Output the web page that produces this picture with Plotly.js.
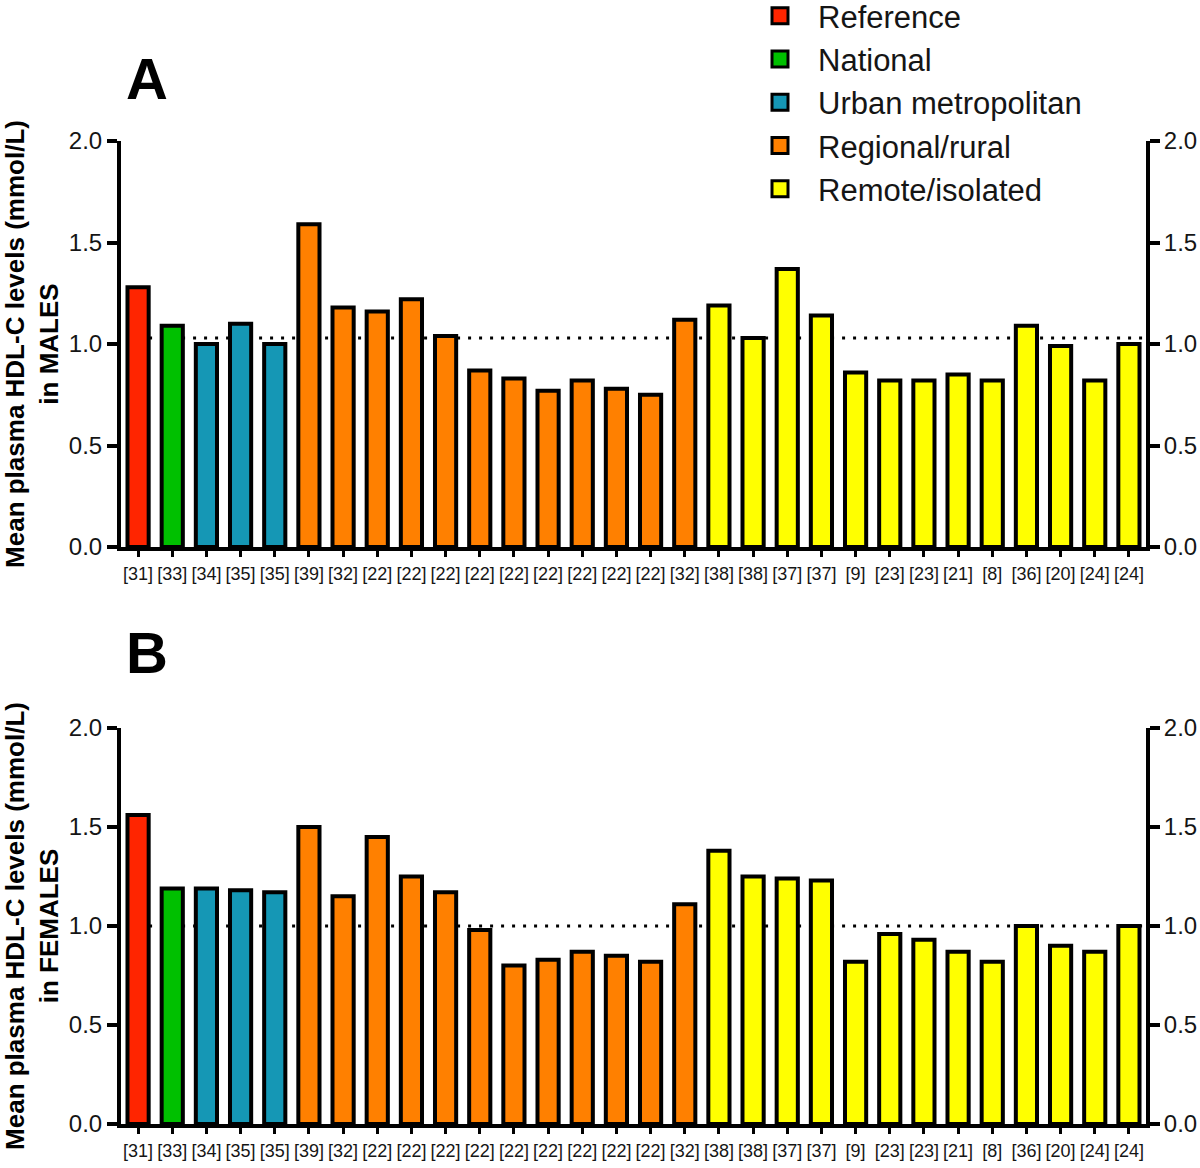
<!DOCTYPE html>
<html>
<head>
<meta charset="utf-8">
<script src="https://cdn.plot.ly/plotly-3.0.1.min.js"></script>
<style>
html,body{margin:0;padding:0;background:#ffffff;}
#chart{width:1200px;height:1168px;}
</style>
</head>
<body>
<div id="chart"></div>
<script>
// ---------- data ----------
const studyRefs = ["[31]","[33]","[34]","[35]","[35]","[39]","[32]","[22]","[22]","[22]","[22]","[22]","[22]","[22]","[22]","[22]","[32]","[38]","[38]","[37]","[37]","[9]","[23]","[23]","[21]","[8]","[36]","[20]","[24]","[24]"];

const groupNames = ["Reference","National","Urban metropolitan","Regional/rural","Remote/isolated"];

const studyGroup = ["Reference","National","Urban metropolitan","Urban metropolitan","Urban metropolitan",
  "Regional/rural","Regional/rural","Regional/rural","Regional/rural","Regional/rural","Regional/rural",
  "Regional/rural","Regional/rural","Regional/rural","Regional/rural","Regional/rural","Regional/rural",
  "Remote/isolated","Remote/isolated","Remote/isolated","Remote/isolated","Remote/isolated","Remote/isolated",
  "Remote/isolated","Remote/isolated","Remote/isolated","Remote/isolated","Remote/isolated","Remote/isolated","Remote/isolated"];

const malesHDL = [1.28,1.09,1.00,1.10,1.00,1.59,1.18,1.16,1.22,1.04,0.87,0.83,0.77,0.82,0.78,0.75,1.12,
  1.19,1.03,1.37,1.14,0.86,0.82,0.82,0.85,0.82,1.09,0.99,0.82,1.00];

const femalesHDL = [1.56,1.19,1.19,1.18,1.17,1.50,1.15,1.45,1.25,1.17,0.98,0.80,0.83,0.87,0.85,0.82,1.11,
  1.38,1.25,1.24,1.23,0.82,0.96,0.93,0.87,0.82,1.00,0.90,0.87,1.00];

const malesRefLine = 1.03;
const femalesRefLine = 1.00;

const yTicks = [0, 0.5, 1.0, 1.5, 2.0];

// ---------- styles ----------
const groupColors = {
  "Reference": "#FF2500",
  "National": "#00C000",
  "Urban metropolitan": "#1597B5",
  "Regional/rural": "#FF8000",
  "Remote/isolated": "#FFFF00"
};
const FONT = "Arial, 'Liberation Sans', Helvetica, sans-serif";
const TXT = "#151515";

const positions = studyRefs.map((_, i) => i);
const traces = [];

function addPanel(values, xa, ya) {
  groupNames.forEach(g => {
    const xs = [], ys = [];
    positions.forEach(i => { if (studyGroup[i] === g) { xs.push(i); ys.push(values[i]); } });
    traces.push({
      type: "bar", x: xs, y: ys, xaxis: xa, yaxis: ya,
      width: 0.62, name: g, showlegend: false, legendgroup: g,
      marker: { color: groupColors[g], line: { color: "#000", width: 4 } },
      hoverinfo: "y"
    });
  });
}
addPanel(malesHDL, "x", "y");
addPanel(femalesHDL, "x2", "y2");

// legend entries (empty markers; attached to the right-hand axes so those axes get drawn)
groupNames.forEach((g, k) => {
  const onB = k >= 3;
  traces.push({
    type: "scatter", mode: "markers", x: [null], y: [null],
    xaxis: onB ? "x2" : "x", yaxis: onB ? "y4" : "y3",
    name: g, legendgroup: g, showlegend: true,
    marker: { symbol: "square", size: 16, color: groupColors[g], line: { color: "#000", width: 3 } }
  });
});

const L = 121, R = 54, T = 141, B = 44, W = 1200, H = 1168;
const plotW = W - L - R, plotH = H - T - B;

function xAxis(anchor) {
  return {
    anchor: anchor, domain: [0, 1], range: [-0.5, 29.5],
    tickmode: "array", tickvals: positions, ticktext: studyRefs,
    ticks: "outside", ticklen: 6, tickwidth: 3, tickcolor: "#000",
    showline: true, linewidth: 4, linecolor: "#000",
    showgrid: false, zeroline: false, ticklabelstandoff: 1,
    tickfont: { family: FONT, size: 18, color: TXT },
    automargin: false, fixedrange: true
  };
}
function yAxis(domain, anchor, titleText, side, overlay) {
  const a = {
    domain: domain, anchor: anchor, range: [0, 2], side: side,
    tickmode: "array", tickvals: yTicks, tickformat: ".1f",
    ticks: "outside", ticklen: 10, tickwidth: 4, tickcolor: "#000",
    showline: true, linewidth: 4, linecolor: "#000",
    showgrid: false, zeroline: false,
    tickfont: { family: FONT, size: 24, color: TXT },
    automargin: false, fixedrange: true
  };
  if (overlay) { a.overlaying = overlay; a.ticklabelstandoff = -1; }
  if (titleText) a.title = { text: titleText, font: { family: FONT, size: 26, color: "#000" }, standoff: 6 };
  return a;
}

const dA = [(H - B - 547) / plotH, 1];
const dB = [0, (H - B - 728) / plotH];
const px2x = px => (px - L) / plotW;
const px2y = py => (H - B - py) / plotH;

const layout = {
  width: W, height: H,
  margin: { l: L, r: R, t: T, b: B, autoexpand: false },
  paper_bgcolor: "#fff", plot_bgcolor: "#fff",
  barmode: "overlay",
  showlegend: true,
  font: { family: FONT, color: TXT },
  xaxis: xAxis("y"),
  xaxis2: xAxis("y2"),
  yaxis: yAxis(dA, "x", "<b>Mean plasma HDL-C levels (mmol/L)</b><br><b>in MALES</b>", "left"),
  yaxis2: yAxis(dB, "x2", "<b>Mean plasma HDL-C levels (mmol/L)</b><br><b>in FEMALES</b>", "left"),
  yaxis3: yAxis(dA, "x", null, "right", "y"),
  yaxis4: yAxis(dB, "x2", null, "right", "y2"),
  legend: {
    x: px2x(742), xanchor: "left", y: px2y(-11), yanchor: "top",
    bgcolor: "rgba(0,0,0,0)", borderwidth: 0,
    font: { family: FONT, size: 31, color: TXT },
    itemwidth: 66, tracegroupgap: 0, traceorder: "normal"
  },
  shapes: [
    { type: "line", xref: "x", yref: "y", x0: 0, x1: 29.5, y0: malesRefLine, y1: malesRefLine,
      layer: "below", line: { color: "#000", width: 3, dash: "3px,8px" } },
    { type: "line", xref: "x2", yref: "y2", x0: 0, x1: 29.5, y0: femalesRefLine, y1: femalesRefLine,
      layer: "below", line: { color: "#000", width: 3, dash: "3px,8px" } }
  ],
  annotations: [
    { text: "<b>A</b>", xref: "paper", yref: "paper", x: px2x(147), y: px2y(78),
      xanchor: "center", yanchor: "middle", showarrow: false, font: { family: FONT, size: 58, color: "#000" } },
    { text: "<b>B</b>", xref: "paper", yref: "paper", x: px2x(147), y: px2y(652),
      xanchor: "center", yanchor: "middle", showarrow: false, font: { family: FONT, size: 58, color: "#000" } }
  ]
};

Plotly.newPlot("chart", traces, layout, { staticPlot: true, displayModeBar: false });
</script>
</body>
</html>
